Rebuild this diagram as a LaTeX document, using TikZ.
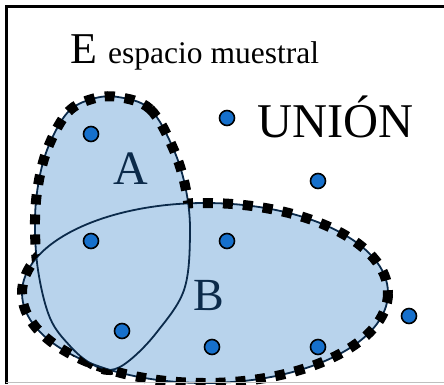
\documentclass[tikz,border=0pt]{standalone}
\usepackage{fontspec}
\setmainfont{Liberation Serif}
\definecolor{fillblue}{HTML}{B8D3EC}
\definecolor{navy}{HTML}{0B2A4A}
\definecolor{dotblue}{HTML}{1670CC}
\begin{document}
\begin{tikzpicture}[x=1pt,y=-1pt,
  thinline/.style={draw=navy, line width=1.8pt},
  unionline/.style={draw=black, line width=10pt, dash pattern=on 10pt off 10pt},
  dot/.style={circle, fill=dotblue, draw=black, line width=1.6pt, minimum size=15pt, inner sep=0pt},
  lbl/.style={anchor=base west, inner sep=0pt},
  pathA/.style={insert path={plot[smooth cycle, tension=0.6] coordinates {(118,97) (150,109) (173,148) (186,190) (190,235) (184,290) (157,332) (130,360) (110,370) (90,363) (70,346) (50,318) (38,270) (35,220) (39,180) (49,145) (68,112) (92,99)}}},
  pathB/.style={insert path={(205,293) ellipse [x radius=183, y radius=90]}},
]
\useasboundingbox (0,0) rectangle (444,384);
\fill[white] (0,0) rectangle (444,384);
% regions
\fill[fillblue, pathA];
\fill[fillblue, pathB];
\draw[thinline, pathA];
\draw[thinline, pathB];
% union boundary
\begin{scope}[even odd rule]
  \clip (205,293) ellipse [x radius=183, y radius=90] (-20,-20) rectangle (470,410);
  \draw[unionline, pathA];
\end{scope}
\begin{scope}[even odd rule]
  \clip plot[smooth cycle, tension=0.6] coordinates {(118,97) (150,109) (173,148) (186,190) (190,235) (184,290) (157,332) (130,360) (110,370) (90,363) (70,346) (50,318) (38,270) (35,220) (39,180) (49,145) (68,112) (92,99)} (-20,-20) rectangle (470,410);
  \draw[unionline, pathB];
\end{scope}
% frame
\draw[line width=2.5pt] (6.3,384) -- (6.3,6.3) -- (444,6.3);
\draw[black!25, line width=1pt] (6.3,382.8) -- (444,382.8);
% points
\node[dot] (d1) at (91,134) {};
\node[dot] (d2) at (227,118) {};
\node[dot] (d3) at (318,181) {};
\node[dot] (d4) at (91,241) {};
\node[dot] (d5) at (227,241) {};
\node[dot] (d6) at (122,331) {};
\node[dot] (d7) at (212,347) {};
\node[dot] (d8) at (318,347) {};
\node[dot] (d9) at (409,316) {};
% labels
\node[lbl, font=\fontsize{44}{44}\selectfont] (E) at (70,63) {E};
\node[lbl, font=\fontsize{31.5}{31.5}\selectfont] (esp) at (108,63) {espacio muestral};
\node[lbl, font=\fontsize{48.5}{48.5}\selectfont] (union) at (257,137) {UNIÓN};
\node[lbl, font=\fontsize{48}{48}\selectfont, text=navy] (A) at (113,184) {A};
\node[lbl, font=\fontsize{46}{46}\selectfont, text=navy] (B) at (193,310) {B};
\end{tikzpicture}
\end{document}
